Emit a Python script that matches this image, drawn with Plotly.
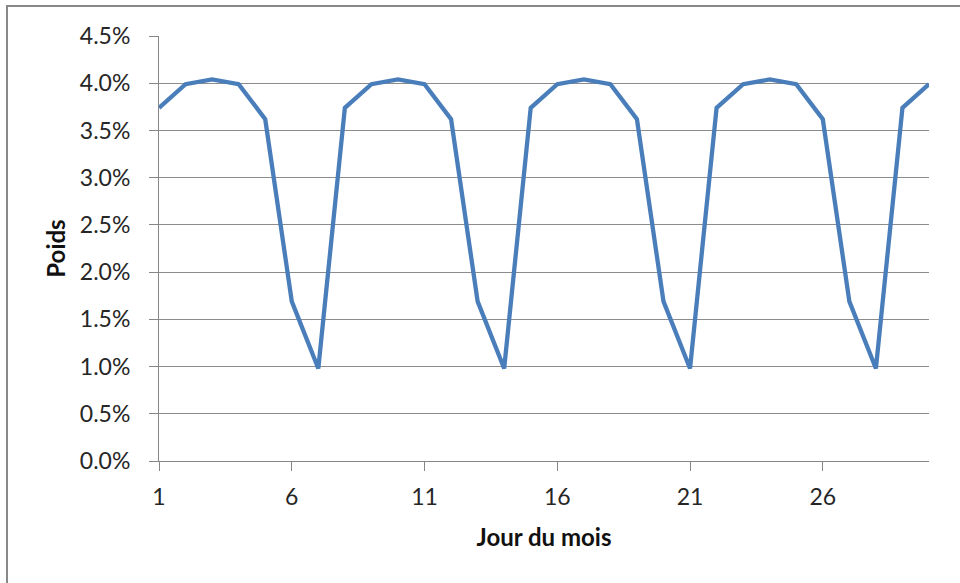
import plotly.graph_objects as go

# Daily weight over one month (weekly pattern)
days = list(range(1, 31))
weekly_pattern = [3.74, 3.99, 4.04, 3.99, 3.62, 1.69, 0.98]
poids = [weekly_pattern[(d - 1) % 7] for d in days]

x_ticks = [1, 6, 11, 16, 21, 26]
y_ticks = [0.0, 0.5, 1.0, 1.5, 2.0, 2.5, 3.0, 3.5, 4.0, 4.5]
y_labels = [f"{v:.1f}%" for v in y_ticks]

W, H = 960, 583
L, R, T, B = 159, 31, 36, 121.5
pw, ph = W - L - R, H - T - B

fig = go.Figure()
fig.add_trace(go.Scatter(
    x=days, y=poids, mode="lines",
    line=dict(color="#4A7EBB", width=4.3),
    hoverinfo="skip", showlegend=False,
))

font = "Lato, 'Open Sans', sans-serif"
fig.update_layout(
    width=W, height=H,
    margin=dict(l=L, r=R, t=T, b=B, pad=0),
    paper_bgcolor="white", plot_bgcolor="white",
    font=dict(family=font, size=23, color="#262626"),
    xaxis=dict(
        range=[1, 30], tickmode="array", tickvals=x_ticks,
        ticktext=[str(v) for v in x_ticks],
        showgrid=False, zeroline=False,
        showline=True, linecolor="#868686", linewidth=1,
        ticks="outside", ticklen=9, tickcolor="#868686",
        ticklabelstandoff=6,
        title=dict(text="<b>Jour du mois</b>", font=dict(size=24, color="#111111"), standoff=20),
    ),
    yaxis=dict(
        range=[0, 4.5], tickmode="array", tickvals=y_ticks, ticktext=y_labels,
        showgrid=True, gridcolor="#8C8C8C", gridwidth=1,
        zeroline=False,
        showline=True, linecolor="#868686", linewidth=1,
        ticks="outside", ticklen=9, tickcolor="#868686",
        ticklabelstandoff=14,
        title=dict(text="<b>Poids</b>", font=dict(size=24, color="#111111"), standoff=7),
    ),
    shapes=[dict(
        type="rect", xref="paper", yref="paper", layer="below",
        x0=(7 - L) / pw, x1=(965 - L) / pw,
        y0=-(595 - (H - B)) / ph, y1=1 + (T - 6) / ph,
        line=dict(color="#888888", width=2), fillcolor="rgba(0,0,0,0)",
    )],
)

fig.write_html("out.html")
